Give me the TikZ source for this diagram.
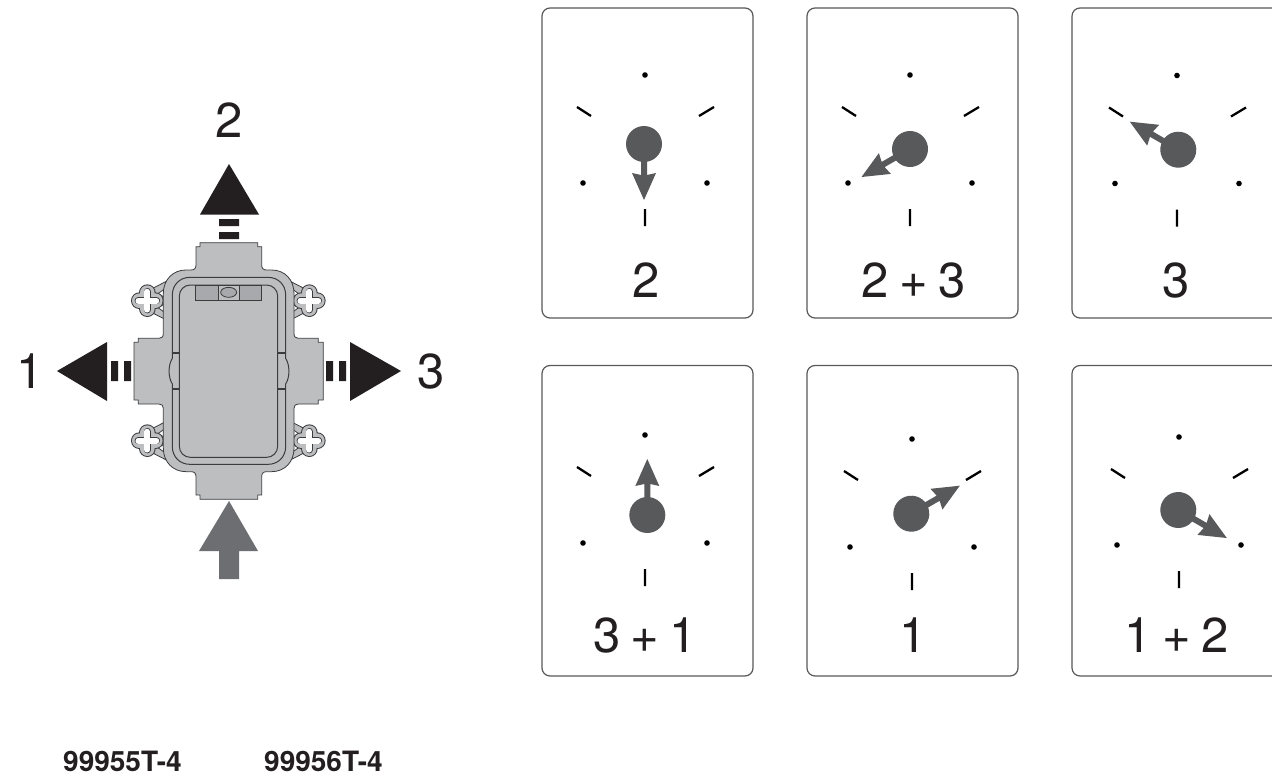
\documentclass[tikz,border=0pt]{standalone}
\usepackage{fontspec}
\setmainfont[WordSpace=0.75]{TeX Gyre Heros}
\definecolor{inkblack}{HTML}{231F20}
\definecolor{bodygrey}{HTML}{BCBEC0}
\definecolor{leveltone}{HTML}{A7A9AC}
\definecolor{outlinegrey}{HTML}{3C3C3E}
\definecolor{pressgrey}{HTML}{6D6E71}
\definecolor{ballgrey}{HTML}{58595B}
\tikzset{
  bigdigit/.style={font=\fontsize{49}{49}\selectfont,text=inkblack,anchor=base,inner sep=0pt},
  partno/.style={font=\fontsize{28}{28}\selectfont\bfseries,text=inkblack,anchor=base west,inner sep=0pt},
  cardframe/.style={draw=ballgrey,line width=1.2pt,rounded corners=8pt,fill=white},
  bodyline/.style={draw=outlinegrey,line width=.8pt},
  tickmark/.style={draw=black,line width=2.3pt},
}
\newcommand{\dialface}[5]{%
  \begin{scope}[shift={(#1,#2)}]
    \fill[black] (0,0) circle (2.8pt) (-62,108) circle (2.8pt) (62,108) circle (2.8pt);
    \draw[tickmark] (-68,32) -- (-54,41) (54,41) -- (69,32) (0,134) -- (0,151);
  \end{scope}
  \begin{scope}[shift={(#3,#4)},rotate=#5]
    \fill[ballgrey] (0,0) circle (18pt);
    \fill[ballgrey] (10,-3) -- (31,-3) -- (29,-12) -- (56,0) -- (29,12) -- (31,3) -- (10,3) -- cycle;
  \end{scope}}
\newcommand{\cloverlug}[3]{%
  \begin{scope}[shift={(#1,#2)},yscale=#3]
    \filldraw[fill=bodygrey,bodyline] (18,-38) -- (55,-57) -- (55,57) -- (18,38) -- cycle;
    \filldraw[fill=white,bodyline] (32,-21) -- (50,-34) -- (50,-11) -- cycle;
    \filldraw[fill=white,bodyline] (32,21) -- (50,34) -- (50,11) -- cycle;
    \fill[outlinegrey] (-24,0) circle (25) (24,0) circle (25) (0,-24) circle (25) (0,24) circle (25);
    \fill[bodygrey] (-24,0) circle (22) (24,0) circle (22) (0,-24) circle (22) (0,24) circle (22) (0,0) circle (26);
    \draw[outlinegrey,line width=7.5pt,line cap=round] (-27,0) -- (27,0) (0,-27) -- (0,27);
    \draw[white,line width=5.8pt,line cap=round] (-27,0) -- (27,0) (0,-27) -- (0,27);
  \end{scope}}
\begin{document}
\begin{tikzpicture}[x=1pt,y=-1pt]
\clip (0,0) rectangle (1272,776);
\fill[white] (0,0) rectangle (1272,776);

% cards
\draw[cardframe] (542,8) rectangle (753,318);
\draw[cardframe] (807,8) rectangle (1018,318);
\draw[cardframe] (1072,8) rectangle (1290,318);
\draw[cardframe] (542,365.5) rectangle (753,676);
\draw[cardframe] (807,365.5) rectangle (1018,676);
\draw[cardframe] (1072,365.5) rectangle (1290,676);

\dialface{645}{75}{644}{144}{-90}
\dialface{910}{75}{910}{149}{210}
\dialface{1177}{75.5}{1178.3}{149.7}{150}
\dialface{645}{435}{647.3}{515}{90}
\dialface{912}{439}{911.3}{513.7}{30}
\dialface{1179}{437}{1178.3}{510}{-30}

\node[bigdigit] (capA) at (646.5,297) {2};
\node[bigdigit] (capB) at (913.5,297) {2 + 3};
\node[bigdigit] (capC) at (1176,297) {3};
\node[bigdigit] (capD) at (645,652) {3 + 1};
\node[bigdigit] (capE) at (913,652) {1};
\node[bigdigit] (capF) at (1176.5,652) {1 + 2};

% device
\begin{scope}[shift={(110pt,-230pt)},x=.33333pt,y=-.33333pt]
  \cloverlug{112}{212}{1}
  \cloverlug{112}{632}{-1}
  \begin{scope}[xscale=-1,shift={(-710,0)}]
    \cloverlug{112}{212}{1}
    \cloverlug{112}{632}{-1}
  \end{scope}
  \filldraw[fill=bodygrey,bodyline]
    (270,38) -- (443,38) -- (443,50) -- (455,50) -- (455,105)
    .. controls (455,115) and (460,120) .. (470,120) -- (485,120)
    .. controls (525,120) and (552,150) .. (552,190) -- (552,310)
    .. controls (552,320) and (556,325) .. (565,325) -- (625,325) -- (625,337) -- (640,337)
    -- (640,510) -- (625,510) -- (625,522) -- (565,522)
    .. controls (556,522) and (552,527) .. (552,535) -- (552,655)
    .. controls (552,695) and (525,725) .. (485,725) -- (470,725)
    .. controls (460,725) and (455,730) .. (455,740) -- (455,795) -- (443,795) -- (443,808)
    -- (270,808) -- (270,795) -- (258,795) -- (258,740)
    .. controls (258,730) and (253,725) .. (243,725) -- (228,725)
    .. controls (188,725) and (160,695) .. (160,655) -- (160,535)
    .. controls (160,527) and (156,522) .. (147,522) -- (85,522) -- (85,510) -- (72,510)
    -- (72,337) -- (85,337) -- (85,325) -- (147,325)
    .. controls (156,325) and (160,320) .. (160,310) -- (160,190)
    .. controls (160,150) and (188,120) .. (228,120) -- (243,120)
    .. controls (253,120) and (258,115) .. (258,105) -- (258,50) -- (270,50) -- cycle;
  % outer ring with its two side bulges
  \draw[bodyline,line width=1pt]
    (240,142) -- (474,142) .. controls (505,142) and (527,165) .. (527,195)
    -- (527,385) .. controls (540,405) and (540,442) .. (527,462) -- (527,650)
    .. controls (527,680) and (505,703) .. (474,703) -- (240,703)
    .. controls (209,703) and (187,680) .. (187,650) -- (187,462)
    .. controls (174,442) and (174,405) .. (187,385) -- (187,195)
    .. controls (187,165) and (209,142) .. (240,142) -- cycle;
  % inner ring
  \draw[bodyline,line width=1pt,rounded corners=11pt] (208,165) rectangle (503,682);
  % snap marks
  \draw[outlinegrey,line width=2pt] (187,370) -- (208,370) (187,477) -- (208,477) (503,370) -- (527,370) (503,477) -- (527,477);
  % spirit level
  \filldraw[fill=leveltone,bodyline] (257,165) rectangle (455,212);
  \filldraw[fill=bodygrey,bodyline] (325,165) rectangle (387,212);
  \filldraw[fill=leveltone,bodyline] (356,187) ellipse (24 and 15);
\end{scope}

% direction arrows
\fill[inkblack] (229,164) -- (259,214.5) -- (200,214.5) -- cycle;
\fill[inkblack] (219,219) rectangle (239,226) (219,232) rectangle (239,239);
\fill[inkblack] (57,371) -- (107,342) -- (107,401) -- cycle;
\fill[inkblack] (111,361) rectangle (118,381) (124,361) rectangle (131,381);
\fill[inkblack] (401,371) -- (350,342) -- (350,401) -- cycle;
\fill[inkblack] (326,361) rectangle (333,381) (339,361) rectangle (346,381);
\fill[pressgrey] (229,501) -- (258,551) -- (239,551) -- (239,579) -- (219,579) -- (219,551) -- (199,551) -- cycle;

\node[bigdigit] (lblTwo) at (229,137) {2};
\node[bigdigit] (lblOne) at (30,388) {1};
\node[bigdigit] (lblThree) at (431.5,388) {3};

\node[partno] (partA) at (63,771) {99955T-4};
\node[partno] (partB) at (264,771) {99956T-4};
\end{tikzpicture}
\end{document}
